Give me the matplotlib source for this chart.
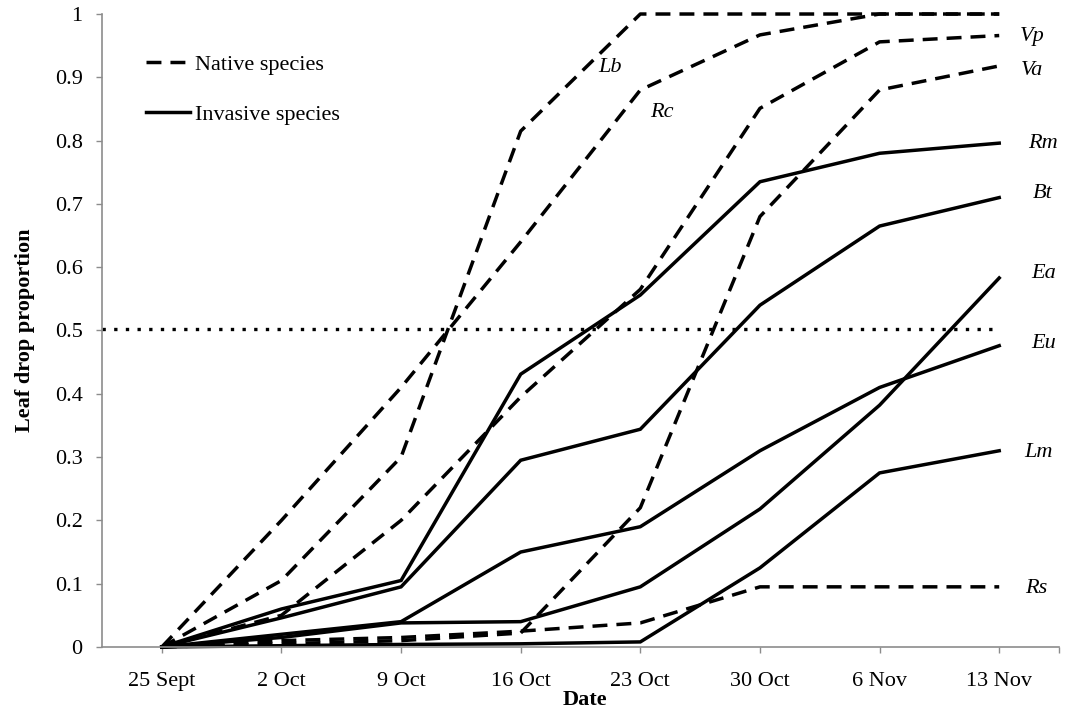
import matplotlib
matplotlib.use("Agg")
import matplotlib.pyplot as plt
from matplotlib.lines import Line2D

# Dates of the weekly surveys
dates = ["25 Sept", "2 Oct", "9 Oct", "16 Oct", "23 Oct", "30 Oct", "6 Nov", "13 Nov"]

# Native species (dashed)
Lb = [0, 0.105, 0.30, 0.815, 1.0, 1.0, 1.0, 1.0]
Rc = [0, 0.20, 0.41, 0.64, 0.88, 0.967, 1.0, 1.0]
Vp = [0, 0.05, 0.20, 0.395, 0.565, 0.851, 0.956, 0.966]
Va = [0, 0.005, 0.01, 0.022, 0.22, 0.68, 0.88, 0.918]
Rs = [0, 0.01, 0.015, 0.025, 0.038, 0.095, 0.095, 0.095]

# Invasive species (solid)
Rm = [0, 0.06, 0.105, 0.431, 0.556, 0.735, 0.78, 0.796]
Bt = [0, 0.046, 0.095, 0.295, 0.344, 0.54, 0.665, 0.71]
Ea = [0, 0.015, 0.038, 0.04, 0.095, 0.218, 0.382, 0.583]
Eu = [0, 0.02, 0.04, 0.15, 0.19, 0.31, 0.41, 0.476]
Lm = [0, 0.002, 0.004, 0.005, 0.008, 0.125, 0.275, 0.31]

threshold = 0.503

nativeSeries = {"Lb": Lb, "Rc": Rc, "Vp": Vp, "Va": Va, "Rs": Rs}
invasiveSeries = {"Rm": Rm, "Bt": Bt, "Ea": Ea, "Eu": Eu, "Lm": Lm}

# label anchor (x in category units, y in data units)
labelPos = {
    "Lb": (3.75, 0.915), "Rc": (4.18, 0.845), "Vp": (7.28, 0.964), "Va": (7.27, 0.91),
    "Rm": (7.37, 0.796), "Bt": (7.36, 0.716), "Ea": (7.37, 0.59), "Eu": (7.37, 0.48),
    "Lm": (7.33, 0.308), "Rs": (7.31, 0.093),
}

plt.rcParams["font.family"] = ["Liberation Serif", "DejaVu Serif"]
lw = 2.5
dash = (0, (4.3, 2.6))
axisGray = "#8c8c8c"

fig = plt.figure(figsize=(10.68, 7.08), dpi=100)
ax = fig.add_axes([0.0955, 0.0862, 0.8961, 0.894])

x = list(range(len(dates)))
for name, vals in invasiveSeries.items():
    ax.plot(x, vals, color="black", lw=lw, solid_joinstyle="miter", clip_on=False)
for name, vals in nativeSeries.items():
    ax.plot(x, vals, color="black", lw=lw, linestyle=dash, clip_on=False)

ax.plot([-0.5, len(dates) - 1], [threshold, threshold], color="black", lw=2.4,
        linestyle=(0, (1, 2.5)), clip_on=False)

for name, (lx, ly) in labelPos.items():
    ax.text(lx, ly, name, style="italic", fontsize=16, ha="center", va="center")

ax.set_xlim(-0.5, len(dates) - 0.5)
ax.set_ylim(0, 1)
ax.set_xticks(x + [len(dates) - 0.5])
ax.set_xticklabels(dates + [""])
ax.set_yticks([i / 10 for i in range(11)])
ax.set_yticklabels(["0"] + [f"{i / 10:.1f}" for i in range(1, 10)] + ["1"])

for side in ["top", "right"]:
    ax.spines[side].set_visible(False)
for side in ["left", "bottom"]:
    ax.spines[side].set_color(axisGray)
    ax.spines[side].set_linewidth(1.2)
ax.tick_params(axis="both", direction="out", length=4, width=1.0, color=axisGray,
               labelsize=16, labelcolor="black")
ax.tick_params(axis="x", pad=14)
ax.tick_params(axis="y", pad=10)

ax.set_xlabel("Date", fontsize=16, fontweight="bold")
ax.xaxis.set_label_coords(0.505, -0.068)
ax.set_ylabel("Leaf drop proportion", fontsize=16, fontweight="bold")
ax.yaxis.set_label_coords(-0.070, 0.5)

handles = [
    Line2D([], [], color="black", lw=lw, linestyle=dash),
    Line2D([], [], color="black", lw=lw),
]
ax.legend(handles, ["Native species", "Invasive species"], loc="upper left",
          bbox_to_anchor=(0.046, 0.936), frameon=False, fontsize=16,
          handlelength=2.0, handletextpad=0.2, labelspacing=1.33, borderpad=0,
          borderaxespad=0)

fig.savefig("out.png", dpi=100)
